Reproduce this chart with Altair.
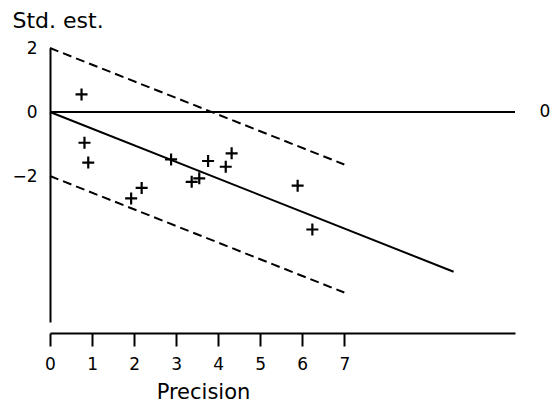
import altair as alt
import pandas as pd

# Data (Galbraith-style plot)
precision = [0.75, 0.82, 0.91, 1.93, 2.18, 2.88, 3.37, 3.55, 3.76, 4.18, 4.32, 5.89, 6.24]
std_est = [0.55, -0.96, -1.58, -2.70, -2.37, -1.48, -2.18, -2.07, -1.53, -1.71, -1.29, -2.30, -3.67]

fit_x = [0, 9.6]
fit_y = [0, -4.99]
upper_x = [0, 7.0]
upper_y = [2, -1.64]
lower_x = [0, 7.0]
lower_y = [-2, -5.64]
zero_x = [0, 11.06]
zero_y = [0, 0]
zero_label_x = [11.77]
zero_label_y = [0]
zero_label_text = ["0"]

x_ticks = [0, 1, 2, 3, 4, 5, 6, 7]
y_ticks = [-2, 0, 2]

FONT = "DejaVu Sans"

pts = pd.DataFrame({"x": precision, "y": std_est})
solid = pd.DataFrame({
    "x": fit_x + zero_x,
    "y": fit_y + zero_y,
    "g": ["fit"] * 2 + ["zero"] * 2,
})
dashed = pd.DataFrame({
    "x": upper_x + lower_x,
    "y": upper_y + lower_y,
    "g": ["upper"] * 2 + ["lower"] * 2,
})
lab = pd.DataFrame({"x": zero_label_x, "y": zero_label_y, "t": zero_label_text})

xs = alt.Scale(domain=[0, 11.06], nice=False, zero=False)
ys = alt.Scale(domain=[-6.56, 2], nice=False, zero=False)

x_axis = alt.Axis(
    values=x_ticks, orient="bottom", offset=11, grid=False,
    domainColor="black", domainWidth=2, tickColor="black", tickWidth=2, tickSize=13,
    labelFont=FONT, labelFontSize=17, labelColor="black", labelPadding=10,
    labelFlush=False, labelOverlap=False,
    title="Precision", titleFont=FONT, titleFontSize=21, titleFontWeight="normal",
    titleColor="black", titleX=153, titleY=65, titleAlign="center",
    titleBaseline="alphabetic",
)
y_axis = alt.Axis(
    values=y_ticks, grid=False, ticks=False,
    domainColor="black", domainWidth=2,
    labelFont=FONT, labelFontSize=17, labelColor="black", labelPadding=13,
    labelFlush=False, labelOverlap=False,
    title="Std. est.", titleFont=FONT, titleFontSize=22, titleFontWeight="normal",
    titleColor="black", titleAngle=0, titleX=-38, titleY=-21, titleAlign="left",
    titleBaseline="alphabetic",
)

X = alt.X("x:Q", scale=xs, axis=x_axis)
Y = alt.Y("y:Q", scale=ys, axis=y_axis)

solid_layer = alt.Chart(solid).mark_line(color="black", strokeWidth=2).encode(
    x=X, y=Y, detail="g:N"
)
dashed_layer = alt.Chart(dashed).mark_line(
    color="black", strokeWidth=2, strokeDash=[9, 5]
).encode(x=X, y=Y, detail="g:N")
points_layer = alt.Chart(pts).mark_point(
    shape="M-1,0H1M0,-1V1", filled=False, color="black", strokeWidth=2.2, size=144, opacity=1
).encode(x=X, y=Y)
label_layer = alt.Chart(lab).mark_text(
    font=FONT, fontSize=17, color="black", align="center", baseline="middle"
).encode(x=X, y=Y, text="t:N")

chart = alt.layer(solid_layer, dashed_layer, points_layer, label_layer).properties(
    width=465, height=274,
    autosize=alt.AutoSizeParams(type="none"),
    padding={"left": 42, "top": 40, "right": 36, "bottom": 80},
    background="white",
).configure_view(stroke=None)

chart.save("out.html", embed_options={"renderer": "svg", "actions": False})
